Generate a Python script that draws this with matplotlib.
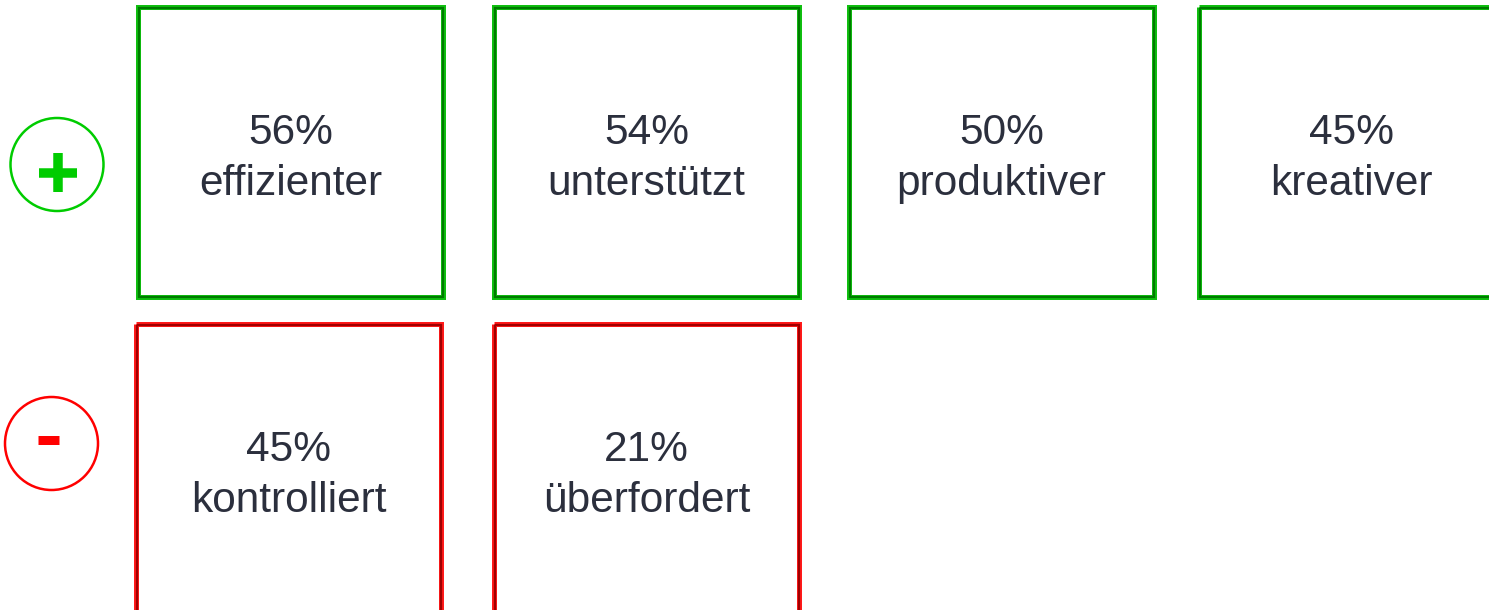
import matplotlib
matplotlib.use("Agg")
import matplotlib.pyplot as plt
from matplotlib.patches import Rectangle, Circle

# Data
pos_labels = ["effizienter", "unterstützt", "produktiver", "kreativer"]
pos_values = [56, 54, 50, 45]
neg_labels = ["kontrolliert", "überfordert"]
neg_values = [45, 21]

W, H = 1489, 610
DPI = 100
fig = plt.figure(figsize=(W / DPI, H / DPI), dpi=DPI)
ax = fig.add_axes([0, 0, 1, 1])
ax.set_xlim(0, W)
ax.set_ylim(H, 0)
ax.axis("off")

px = 72 / DPI  # points per pixel

txt_color = "#2b2f3d"
font = "Liberation Sans"

box_w, box_h = 305, 290
row_tops = [7, 324]
pos_lefts = [138, 494, 849, 1199]
neg_lefts = [136, 494]

styles = {
    "pos": dict(outer="#10c010", inner="#007a00"),
    "neg": dict(outer="#ff1a1a", inner="#a00000"),
}


def draw_box(x, y, value, label, kind):
    st = styles[kind]
    ax.add_patch(Rectangle((x, y), box_w, box_h, fill=False,
                           edgecolor=st["outer"], linewidth=5 * px,
                           joinstyle="miter", zorder=2))
    ax.add_patch(Rectangle((x + 0.5, y + 0.5), box_w - 1, box_h - 1, fill=False,
                           edgecolor=st["inner"], linewidth=2.2 * px,
                           joinstyle="miter", zorder=3))
    cx = x + box_w / 2
    ax.text(cx, y + 137, f"{value}%", ha="center", va="baseline",
            fontsize=30.5, color=txt_color, family=font, zorder=4)
    ax.text(cx, y + 188, label, ha="center", va="baseline",
            fontsize=30.5, color=txt_color, family=font, zorder=4)


for x, v, l in zip(pos_lefts, pos_values, pos_labels):
    draw_box(x, row_tops[0], v, l, "pos")
for x, v, l in zip(neg_lefts, neg_values, neg_labels):
    draw_box(x, row_tops[1], v, l, "neg")

# Plus icon
green = "#00cc00"
ax.add_patch(Circle((57, 164.5), 46.5, fill=False, edgecolor=green,
                    linewidth=2.5 * px, zorder=2))
ax.plot([39, 77], [172.5, 172.5], color=green, linewidth=9.5 * px,
        solid_capstyle="butt", zorder=3)
ax.plot([58, 58], [153, 192], color=green, linewidth=9.5 * px,
        solid_capstyle="butt", zorder=3)

# Minus icon
red = "#ff0000"
ax.add_patch(Circle((51.5, 443.5), 46.5, fill=False, edgecolor=red,
                    linewidth=2.5 * px, zorder=2))
ax.plot([38, 59], [439.5, 439.5], color=red, linewidth=9 * px,
        solid_capstyle="butt", zorder=3)

fig.savefig("out.png", dpi=DPI, facecolor="white")
